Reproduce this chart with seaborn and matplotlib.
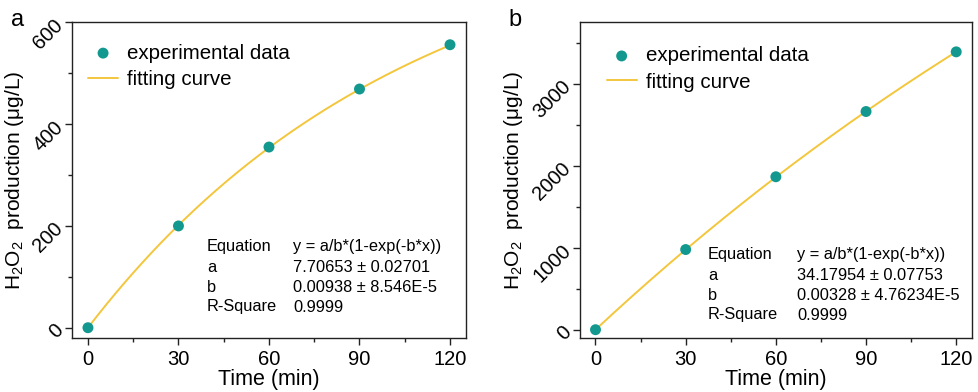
import numpy as np
import pandas as pd
import matplotlib
matplotlib.use("Agg")
import matplotlib.pyplot as plt
from matplotlib.ticker import MultipleLocator
import seaborn as sns

# ---- data ----
time_min = [0, 30, 60, 90, 120]
h2o2_a = [0, 200, 355, 469, 556]
h2o2_b = [0, 978, 1866, 2662, 3390]

# fitted parameters shown in the chart: y = a/b*(1-exp(-b*x))
fit_a = [7.70653, 34.17954]
fit_b = [0.00938, 0.00328]

eq_labels = ["Equation", "a", "b", "R-Square"]
eq_values_a = ["y = a/b*(1-exp(-b*x))", "7.70653 \u00b1 0.02701", "0.00938 \u00b1 8.546E-5", "0.9999"]
eq_values_b = ["y = a/b*(1-exp(-b*x))", "34.17954 \u00b1 0.07753", "0.00328 \u00b1 4.76234E-5", "0.9999"]

sns.set_style("ticks")
plt.rcParams['font.family'] = ['Liberation Sans', 'DejaVu Sans']
plt.rcParams['mathtext.fontset'] = 'custom'
plt.rcParams['mathtext.rm'] = 'Liberation Sans'
plt.rcParams['mathtext.it'] = 'Liberation Sans'
plt.rcParams['text.color'] = 'black'
plt.rcParams['axes.labelcolor'] = 'black'
plt.rcParams['xtick.color'] = '#222222'
plt.rcParams['ytick.color'] = '#222222'
plt.rcParams['xtick.labelcolor'] = 'black'
plt.rcParams['ytick.labelcolor'] = 'black'

TEAL = "#13988f"
YELLOW = "#f3c63c"

fig = plt.figure(figsize=(9.79, 3.92), dpi=100)
ax1 = fig.add_axes([0.0735, 0.138, 0.4025, 0.805])
ax2 = fig.add_axes([0.592, 0.138, 0.401, 0.805])

panels = [
    (ax1, h2o2_a, fit_a[0], fit_b[0], eq_values_a, (-20, 600), 200, 100,
     (207, 247), (293, 247), (0.02, 0.959)),
    (ax2, h2o2_b, fit_a[1], fit_b[1], eq_values_b, (-100, 3750), 1000, 500,
     (708, 255), (797, 255), (0.048, 0.95)),
]

for ax, yv, pa, pb, eqv, ylim, major, minor, c1, c2, lpos in panels:
    xs = np.linspace(0, 120, 200)
    ys = pa / pb * (1 - np.exp(-pb * xs))
    df_fit = pd.DataFrame({"x": xs, "y": ys})
    df_pts = pd.DataFrame({"x": time_min, "y": yv})
    sns.lineplot(data=df_fit, x="x", y="y", ax=ax, color=YELLOW, lw=1.4,
                 label="fitting curve", zorder=2)
    sns.scatterplot(data=df_pts, x="x", y="y", ax=ax, color=TEAL, s=62,
                    edgecolor="none", label="experimental data", zorder=3)
    ax.set_xlim(-5.3, 125.3)
    ax.set_ylim(*ylim)
    ax.xaxis.set_major_locator(MultipleLocator(30))
    ax.xaxis.set_minor_locator(MultipleLocator(15))
    ax.yaxis.set_major_locator(MultipleLocator(major))
    ax.yaxis.set_minor_locator(MultipleLocator(minor))
    ax.tick_params(which="major", direction="out", length=5, width=1, labelsize=14.5)
    ax.tick_params(which="minor", direction="out", length=3, width=1)
    plt.setp(ax.get_yticklabels(), rotation=45, ha="right", va="center", rotation_mode="anchor")
    for s in ax.spines.values():
        s.set_linewidth(1.0)
        s.set_color("#222222")
    ax.set_xlabel("Time (min)", fontsize=15.5, labelpad=0)
    ax.set_ylabel("H$_2$O$_2$  production (\u03bcg/L)", fontsize=15, labelpad=3)
    handles, labels = ax.get_legend_handles_labels()
    order = [labels.index("experimental data"), labels.index("fitting curve")]
    ax.legend([handles[i] for i in order], [labels[i] for i in order],
              loc="upper left", bbox_to_anchor=lpos, frameon=False,
              fontsize=14.8, handlelength=1.46, handletextpad=0.45, labelspacing=0.35,
              borderaxespad=0.0)
    # equation table
    for i, (t1, t2) in enumerate(zip(eq_labels, eqv)):
        fig.text(c1[0] / 979, 1 - (c1[1] + 20 * i) / 392, t1, fontsize=11.8,
                 ha="left", va="center")
        fig.text(c2[0] / 979, 1 - (c2[1] + 20 * i) / 392, t2, fontsize=11.8,
                 ha="left", va="center")

fig.text(11 / 979, 1 - 20 / 392, "a", fontsize=17, ha="left", va="center")
fig.text(508 / 979, 1 - 20 / 392, "b", fontsize=17, ha="left", va="center")

fig.savefig("out.png", dpi=100)
